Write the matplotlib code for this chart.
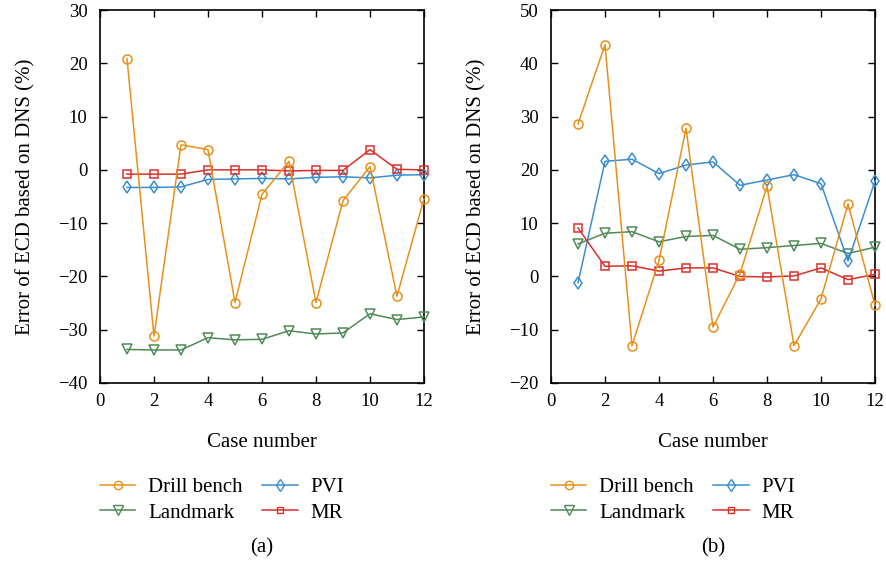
import matplotlib
matplotlib.use("Agg")
import matplotlib.pyplot as plt
from matplotlib.lines import Line2D

plt.rcParams['font.family'] = ['Liberation Serif', 'DejaVu Serif']

cases = list(range(1, 13))

# Panel (a)
a_drill = [20.9, -31.2, 4.7, 3.8, -24.9, -4.6, 1.6, -24.9, -5.8, 0.6, -23.7, -5.4]
a_pvi = [-3.3, -3.3, -3.2, -1.8, -1.7, -1.6, -1.7, -1.4, -1.3, -1.5, -1.0, -0.9]
a_land = [-33.7, -33.8, -33.8, -31.5, -31.9, -31.8, -30.2, -30.8, -30.6, -27.0, -28.1, -27.6]
a_mr = [-0.8, -0.8, -0.8, 0.0, 0.0, 0.0, -0.2, -0.1, -0.1, 3.8, 0.1, 0.0]

# Panel (b)
b_drill = [28.6, 43.5, -13.0, 3.0, 27.8, -9.5, 0.5, 16.9, -13.0, -4.2, 13.6, -5.4]
b_pvi = [-1.2, 21.6, 22.0, 19.3, 20.9, 21.5, 17.1, 18.1, 19.1, 17.4, 2.9, 17.9]
b_land = [6.1, 8.1, 8.4, 6.5, 7.5, 7.7, 5.1, 5.4, 5.8, 6.2, 4.3, 5.5]
b_mr = [9.1, 1.9, 2.0, 1.0, 1.6, 1.6, 0.0, -0.1, 0.1, 1.6, -0.6, 0.4]

# legend order (column-wise fill gives rows: Drill bench/PVI, Landmark/MR)
legend_order = ["Drill bench", "Landmark", "PVI", "MR"]
colors = {"Drill bench": "#E8901A", "PVI": "#3A8ED0", "Landmark": "#4F8A57", "MR": "#D9302A"}
markers = {"Drill bench": "o", "PVI": "d", "Landmark": "v", "MR": "s"}
msizes = {"Drill bench": 6.5, "PVI": 6.5, "Landmark": 7, "MR": 5.5}

fig = plt.figure(figsize=(8.87, 5.69), dpi=100)
ax_a = fig.add_axes([0.1127, 0.3269, 0.3653, 0.6555])
ax_b = fig.add_axes([0.6212, 0.3269, 0.3653, 0.6555])

panels = [
    (ax_a, {"Drill bench": a_drill, "PVI": a_pvi, "Landmark": a_land, "MR": a_mr}, (-40, 30), "(a)"),
    (ax_b, {"Drill bench": b_drill, "PVI": b_pvi, "Landmark": b_land, "MR": b_mr}, (-20, 50), "(b)"),
]

fs = 13
lfs = 15
for ax, data, ylim, tag in panels:
    for n in ["Landmark", "PVI", "MR", "Drill bench"]:
        ax.plot(cases, data[n], color=colors[n], marker=markers[n], ms=msizes[n],
                mfc="none", mec=colors[n], mew=1.1, lw=1.1, clip_on=False, zorder=3)
    ax.set_xlim(0, 12)
    ax.set_ylim(*ylim)
    ax.set_xticks(range(0, 13, 2))
    ax.set_yticks(range(ylim[0], ylim[1] + 1, 10))
    ax.tick_params(direction="in", top=True, right=True, length=5, width=1, labelsize=fs + 0.5)
    ax.tick_params(axis="y", pad=9)
    ax.tick_params(axis="x", pad=7)
    for s in ax.spines.values():
        s.set_linewidth(1.2)
    ax.set_xlabel("Case number", fontsize=lfs, labelpad=17)
    ax.set_ylabel("Error of ECD based on DNS (%)", fontsize=lfs, labelpad=16)
    handles = [Line2D([0], [0], color=colors[n], marker=markers[n], ms=msizes[n] - 0.5,
                      mfc="none", mec=colors[n], lw=1.1) for n in legend_order]
    ax.legend(handles, legend_order, loc="upper left", bbox_to_anchor=(0.0, -0.253), ncol=2,
              frameon=False, fontsize=lfs, handlelength=1.7, columnspacing=0.95,
              labelspacing=0.3, handletextpad=0.6, borderpad=0, borderaxespad=0)
    ax.text(0.5, -0.442, tag, transform=ax.transAxes, ha="center", va="center", fontsize=lfs)

fig.savefig("out.png", dpi=100)
